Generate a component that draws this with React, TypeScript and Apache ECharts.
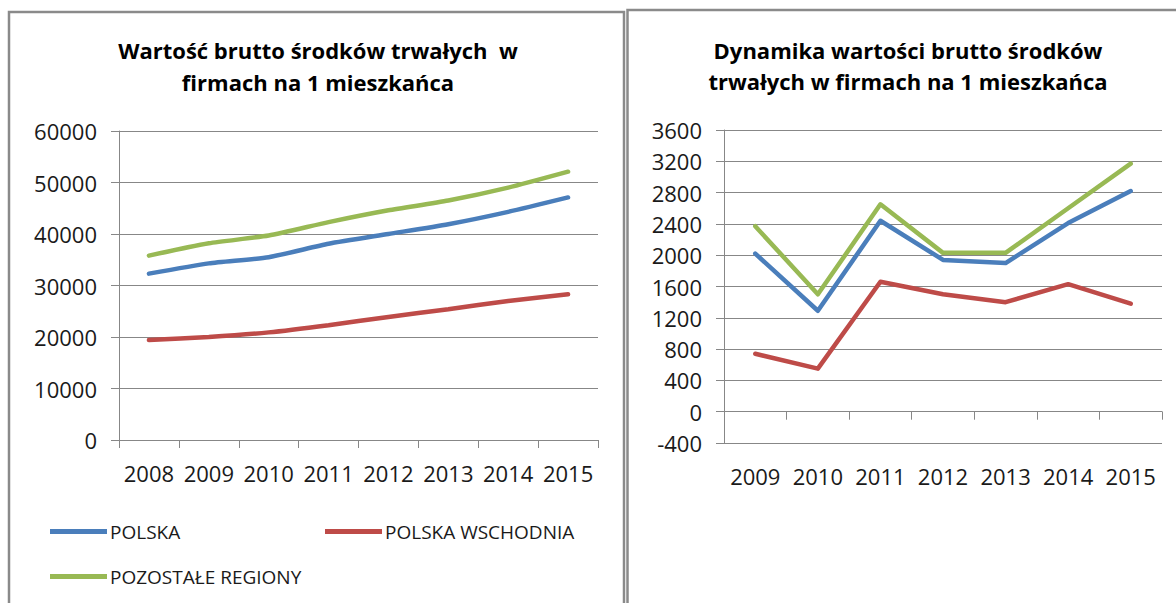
import React, { useEffect, useRef } from "react";
import * as echarts from "echarts";

const yearsLeft = ["2008", "2009", "2010", "2011", "2012", "2013", "2014", "2015"];
const polskaValue = [32300, 34300, 35500, 38100, 40000, 41900, 44300, 47100];
const wschodniaValue = [19400, 20000, 20900, 22300, 23900, 25400, 27000, 28300];
const pozostaleValue = [35800, 38200, 39700, 42300, 44600, 46500, 49000, 52100];

const yearsRight = ["2009", "2010", "2011", "2012", "2013", "2014", "2015"];
const polskaDyn = [2020, 1290, 2440, 1940, 1900, 2410, 2820];
const wschodniaDyn = [740, 550, 1660, 1500, 1400, 1630, 1380];
const pozostaleDyn = [2370, 1500, 2650, 2030, 2030, 2600, 3170];

const names = ["POLSKA", "POLSKA WSCHODNIA", "POZOSTAŁE REGIONY"];
const colors = ["#4a7ebb", "#be4b48", "#98b954"];

const titleLeft = ["Wartość brutto środków trwałych  w", "firmach na 1 mieszkańca"];
const titleRight = ["Dynamika wartości brutto środków", "trwałych w firmach na 1 mieszkańca"];

const FONT = "'Open Sans', 'Noto Sans', sans-serif";
const GRID_COLOR = "#878787";

export default function App() {
  const ref = useRef<HTMLDivElement>(null);
  useEffect(() => {
    if (!ref.current) return;
    const chart = echarts.init(ref.current, null, { renderer: "svg" });

    const axisLabel = { color: "#1a1a1a", fontFamily: FONT, fontSize: 22 };
    const xAxisBase = (data: string[], gridIndex: number) => ({
      type: "category",
      gridIndex,
      data,
      boundaryGap: true,
      axisLine: { show: true, lineStyle: { color: GRID_COLOR, width: 1 } },
      axisTick: { show: true, length: 8, interval: 0, lineStyle: { color: GRID_COLOR } },
      axisLabel: { ...axisLabel, interval: 0, margin: 22 },
      splitLine: { show: false },
    });
    const yAxisBase = (gridIndex: number, min: number, max: number, interval: number) => ({
      type: "value",
      gridIndex,
      min,
      max,
      interval,
      axisLine: { show: true, lineStyle: { color: GRID_COLOR, width: 1 } },
      axisTick: { show: true, length: 8, lineStyle: { color: GRID_COLOR } },
      axisLabel: { ...axisLabel, margin: 22, formatter: (v: number) => String(v) },
      splitLine: { show: true, lineStyle: { color: GRID_COLOR, width: 1 } },
    });

    const leftData = [polskaValue, wschodniaValue, pozostaleValue];
    const rightData = [polskaDyn, wschodniaDyn, pozostaleDyn];

    const series: any[] = [];
    names.forEach((n, i) => {
      series.push({
        name: n,
        type: "line",
        xAxisIndex: 0,
        yAxisIndex: 0,
        data: leftData[i],
        smooth: 0.2,
        symbol: "none",
        lineStyle: { color: colors[i], width: 4.5, cap: "round" },
        itemStyle: { color: colors[i] },
      });
      series.push({
        name: n,
        type: "line",
        xAxisIndex: 1,
        yAxisIndex: 1,
        data: rightData[i],
        symbol: "none",
        lineStyle: { color: colors[i], width: 4.5, cap: "round", join: "round" },
        itemStyle: { color: colors[i] },
      });
    });

    const legendBase = {
      icon: "rect",
      itemWidth: 57,
      itemHeight: 5,
      itemGap: 5,
      textStyle: { color: "#1a1a1a", fontFamily: FONT, fontSize: 19, padding: [0, 0, 0, -2] },
      selectedMode: false,
    };

    const titleFont = `bold 22px ${FONT}`;

    chart.setOption({
      animation: false,
      backgroundColor: "#ffffff",
      grid: [
        { left: 119, right: 1176 - 598, top: 131, height: 309 },
        { left: 724, right: 1176 - 1162, top: 130, height: 313 },
      ],
      xAxis: [xAxisBase(yearsLeft, 0), xAxisBase(yearsRight, 1)],
      yAxis: [yAxisBase(0, 0, 60000, 10000), yAxisBase(1, -400, 3600, 400)],
      legend: [
        { ...legendBase, data: [names[0]], left: 45, top: 517 },
        { ...legendBase, data: [names[1]], left: 320, top: 517 },
        { ...legendBase, data: [names[2]], left: 45, top: 562 },
      ],
      series,
      graphic: [
        {
          type: "polyline",
          shape: { points: [[9, 603], [9, 12], [624, 12], [624, 603]] },
          style: { stroke: "#8a8a8a", lineWidth: 2.5, fill: "none" },
          silent: true,
        },
        {
          type: "polyline",
          shape: { points: [[627.5, 603], [627.5, 10], [1176, 10]] },
          style: { stroke: "#8a8a8a", lineWidth: 2.5, fill: "none" },
          silent: true,
        },
        {
          type: "text",
          x: 318,
          y: 50,
          style: { text: titleLeft[0], font: titleFont, fill: "#000", textAlign: "center", textVerticalAlign: "middle" },
        },
        {
          type: "text",
          x: 318,
          y: 82,
          style: { text: titleLeft[1], font: titleFont, fill: "#000", textAlign: "center", textVerticalAlign: "middle" },
        },
        {
          type: "text",
          x: 908,
          y: 50,
          style: { text: titleRight[0], font: titleFont, fill: "#000", textAlign: "center", textVerticalAlign: "middle" },
        },
        {
          type: "text",
          x: 908,
          y: 81,
          style: { text: titleRight[1], font: titleFont, fill: "#000", textAlign: "center", textVerticalAlign: "middle" },
        },
      ],
    });
    return () => chart.dispose();
  }, []);

  return (
    <div
      ref={ref}
      style={{ position: "absolute", left: 0, top: 0, width: 1176, height: 603, background: "#fff" }}
    />
  );
}
